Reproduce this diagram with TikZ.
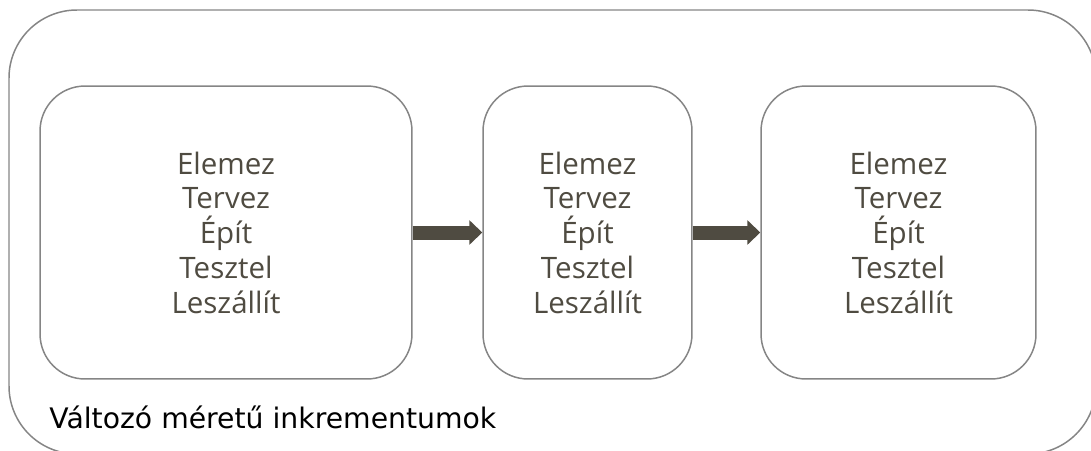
\documentclass[tikz,border=0pt]{standalone}
\usepackage{fontspec}
\setmainfont{DejaVu Sans}
\newfontfamily\phasefont{Open Sans}
\usetikzlibrary{arrows.meta}
\definecolor{phasetext}{HTML}{4F4B41}
\definecolor{framegray}{HTML}{858585}
\tikzset{
  phase/.style={draw=framegray, line width=0.85pt, rounded corners=0.9cm,
    minimum height=5.86cm, align=center, text=phasetext,
    font=\phasefont\fontsize{16.8}{19.8}\selectfont},
  flow/.style={draw=phasetext, line width=0.28cm,
    -{Triangle[width=0.48cm,length=0.26cm]}}
}
\begin{document}
\begin{tikzpicture}[x=0.02cm,y=-0.02cm]
  \useasboundingbox (0,0) rectangle (1091,450);
  \clip (0,0) rectangle (1091,450);
  % Rahmen
  \draw[framegray, line width=0.85pt, rounded corners=1.36cm] (9,10) rectangle (1096,454);
  % Inkremente
  \node[phase, minimum width=7.44cm] (inc1) at (226,232.5)
    {Elemez\\Tervez\\Épít\\Tesztel\\Leszállít};
  \node[phase, minimum width=4.18cm] (inc2) at (587.5,232.5)
    {Elemez\\Tervez\\Épít\\Tesztel\\Leszállít};
  \node[phase, minimum width=5.5cm] (inc3) at (898.5,232.5)
    {Elemez\\Tervez\\Épít\\Tesztel\\Leszállít};
  % Pfeile
  \draw[flow] (inc1.east) -- (inc2.west);
  \draw[flow] (inc2.east) -- (inc3.west);
  % Beschriftung
  \node[anchor=base west, inner sep=0pt, font=\fontsize{16.1}{18}\selectfont] (caption) at (49,428)
    {Változó méretű inkrementumok};
\end{tikzpicture}
\end{document}
